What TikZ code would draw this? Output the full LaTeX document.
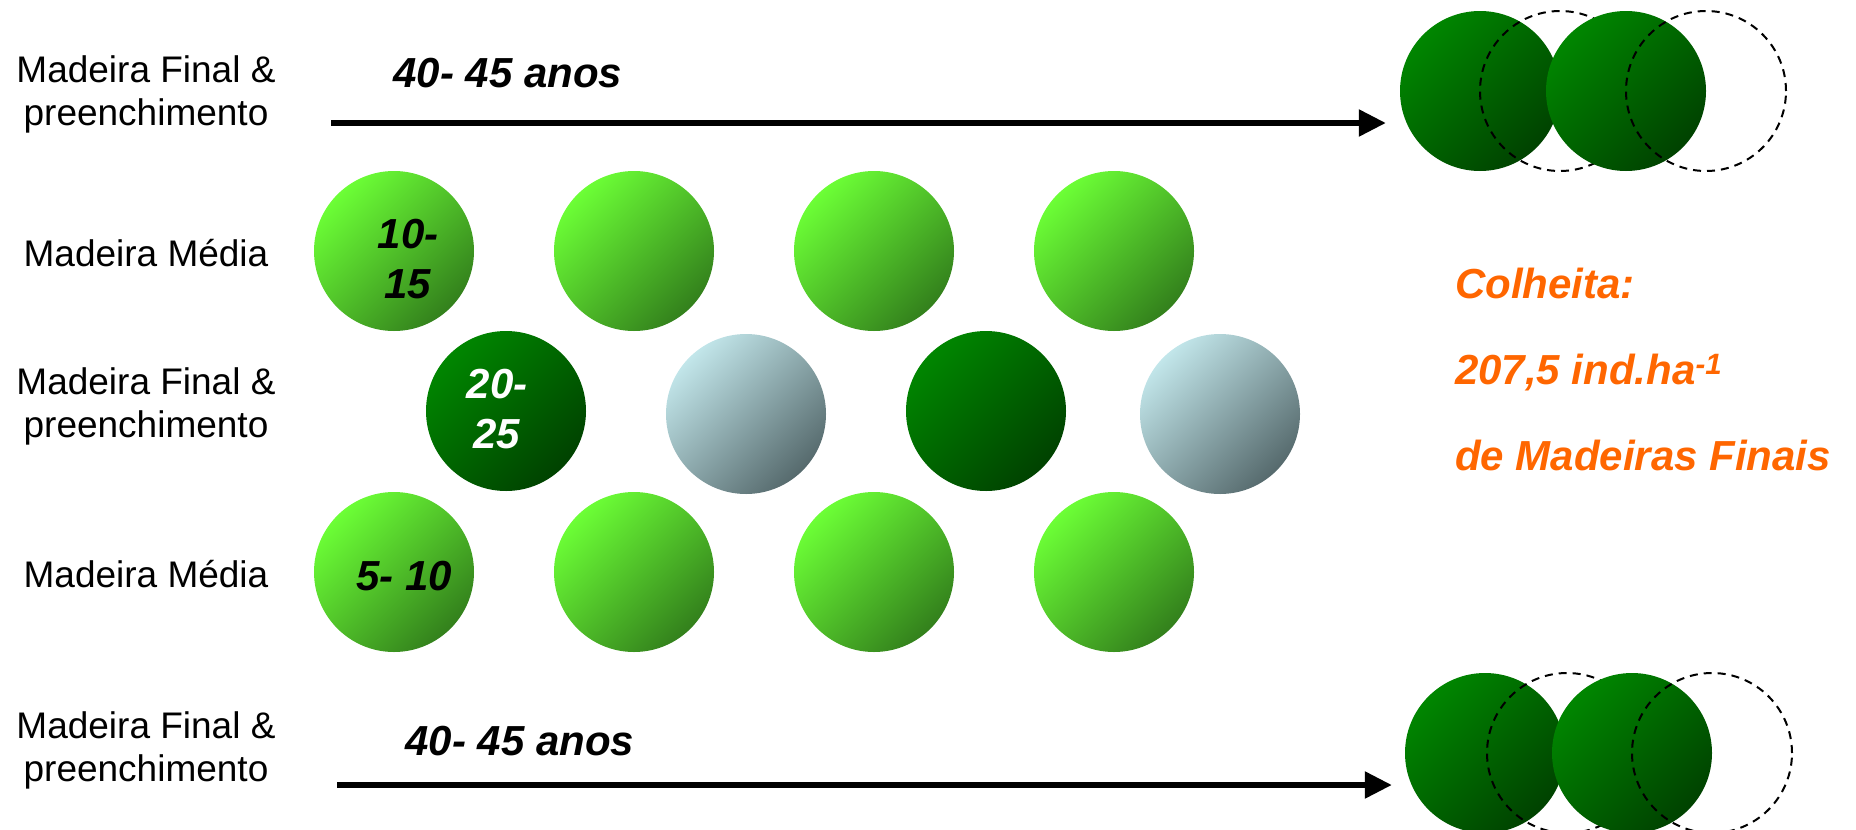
\documentclass[tikz,border=0pt]{standalone}
\usepackage{fontspec}
\setmainfont{Liberation Sans}
\usetikzlibrary{arrows.meta}
\definecolor{verdeClaroA}{HTML}{6CFF36}
\definecolor{verdeClaroB}{HTML}{33801C}
\definecolor{verdeEscuroA}{HTML}{008600}
\definecolor{verdeEscuroB}{HTML}{004200}
\definecolor{cinzaA}{HTML}{C2E6EA}
\definecolor{cinzaB}{HTML}{566A6D}
\definecolor{laranja}{HTML}{FF6600}

\begin{document}
\begin{tikzpicture}[
  x=1pt, y=-1pt,
  bola/.style={circle, minimum size=160pt, inner sep=0pt},
  bolaClara/.style={bola, top color=verdeClaroA, bottom color=verdeClaroB, shading angle=45},
  bolaEscura/.style={bola, top color=verdeEscuroA, bottom color=verdeEscuroB, shading angle=45},
  bolaCinza/.style={bola, top color=cinzaA, bottom color=cinzaB, shading angle=45},
  vazia/.style={bola, draw=black, line width=2pt, dash pattern=on 8pt off 6pt},
  flecha/.style={-{Triangle[length=27pt, width=26pt]}, line width=5.5pt},
  rotulo/.style={font=\fontsize{37}{43}\selectfont, align=center, inner sep=0pt},
  idade/.style={font=\fontsize{42}{50}\selectfont\bfseries\itshape, align=center, inner sep=0pt},
  nota/.style={font=\fontsize{42}{86}\selectfont\bfseries\itshape, text=laranja,
               align=left, inner sep=0pt, anchor=west}
]
\useasboundingbox (0,0) rectangle (1856,830);

% Rotulos das filas, a esquerda.
\node[rotulo] (r1) at (146,94)  {Madeira Final \&\\preenchimento};
\node[rotulo] (r2) at (146,253) {Madeira Média};
\node[rotulo] (r3) at (146,406) {Madeira Final \&\\preenchimento};
\node[rotulo] (r4) at (146,574) {Madeira Média};
\node[rotulo] (r5) at (146,750) {Madeira Final \&\\preenchimento};

% Filas de arvores.
\foreach \x/\n in {394/a, 634/b, 874/c, 1114/d}
  \node[bolaClara] (m1\n) at (\x,251) {};
\node[bolaEscura] (f1) at (506,411)  {};
\node[bolaCinza]  (f2) at (746,414)  {};
\node[bolaEscura] (f3) at (986,411)  {};
\node[bolaCinza]  (f4) at (1220,414) {};
\foreach \x/\n in {394/a, 634/b, 874/c, 1114/d}
  \node[bolaClara] (m2\n) at (\x,572) {};

\node[idade] (t1015) at (408,259) {10-\\15};
\node[idade, text=white] (t2025) at (497,409) {20-\\25};
\node[idade] (t510) at (404,576) {5- 10};

% Madeiras finais colhidas, com o lugar vago a tracejado.
\node[bolaEscura] (c1) at (1480,91) {};
\node[vazia]      (v1) at (1560,91) {};
\node[bolaEscura] (c2) at (1626,91) {};
\node[vazia]      (v2) at (1706,91) {};

\node[bolaEscura] (c3) at (1485,753) {};
\node[vazia]      (v3) at (1567,753) {};
\node[bolaEscura] (c4) at (1632,753) {};
\node[vazia]      (v4) at (1712,753) {};

\coordinate (ini1) at (331,123);
\coordinate (ini2) at (337,785);
\draw[flecha, shorten >=14pt] (ini1) -- (ini1 -| c1.west);
\draw[flecha, shorten >=13pt] (ini2) -- (ini2 -| c3.west);
\node[idade] (a1) at (508,73)  {40- 45 anos};
\node[idade] (a2) at (520,741) {40- 45 anos};

\node[nota] (colheita) at (1455,369)
  {Colheita:\\207,5 ind.ha\textsuperscript{-1}\\de Madeiras Finais};

\end{tikzpicture}
\end{document}
